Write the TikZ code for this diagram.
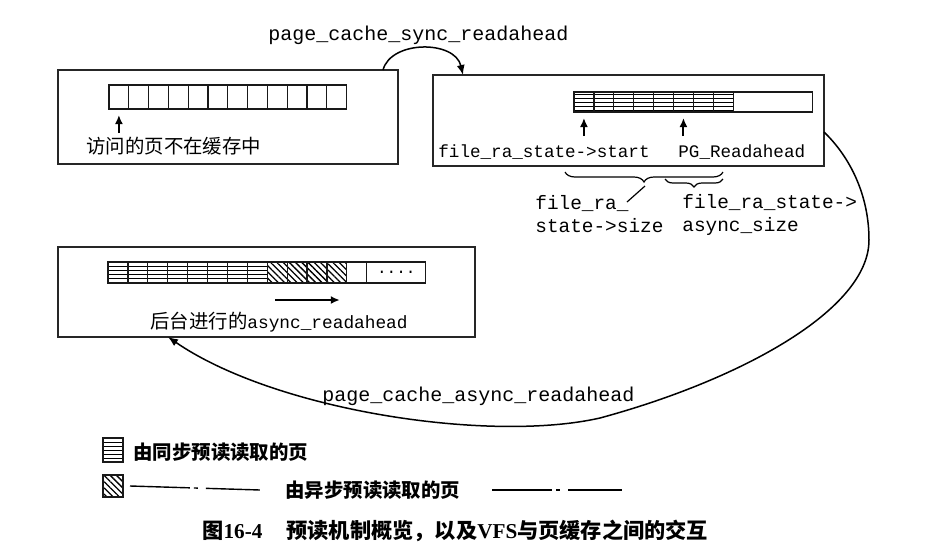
\documentclass[tikz,border=0pt]{standalone}
\usepackage{fontspec}
\setmonofont{Liberation Mono}
\newfontfamily\cjk{Noto Sans CJK SC}
\newfontfamily\latinb{Liberation Serif}
\usetikzlibrary{arrows.meta,positioning,patterns.meta,decorations.pathreplacing}

\begin{document}
\begin{tikzpicture}[x=0.5pt, y=-0.5pt,
  framebox/.style={draw=black!85, line width=0.75pt, inner sep=0pt, outer sep=0pt},
  cell/.style={draw=black!90, line width=0.6pt, minimum width=9.95pt, inner sep=0pt, outer sep=0pt},
  synccell/.style={cell, pattern={Lines[angle=0,distance=2pt,line width=0.45pt]}},
  asynccell/.style={cell, pattern={Lines[angle=-45,distance=2.2pt,line width=0.65pt]}},
  ptr/.style={-{Latex[length=4.5pt,width=4pt]}, line width=1pt},
  conn/.style={-{Latex[length=5pt,width=4pt]}, line width=0.75pt},
  lbl/.style={font=\ttfamily\fontsize{10}{11.5}\selectfont, inner sep=0pt, anchor=west, align=left},
  smalllbl/.style={lbl, font=\ttfamily\fontsize{8.8}{10}\selectfont},
  cjklbl/.style={font=\cjk\fontsize{9.7}{11}\selectfont, inner sep=0pt, anchor=west},
  legtxt/.style={font=\cjk\bfseries\fontsize{9.7}{11}\selectfont, inner sep=0pt, anchor=west},
  legline/.style={line width=0.7pt, dash pattern=on 30pt off 2pt on 2pt off 4pt on 27pt},
  bracedown/.style={decorate, decoration={brace, mirror, amplitude=#1}, line width=0.6pt}
]
\useasboundingbox (0,0) rectangle (933,558);

\node[framebox, minimum width=170pt, minimum height=47pt] (pgmiss) at (228,117) {};
\node[framebox, minimum width=195.5pt, minimum height=45.5pt] (pgsync) at (628.5,120.5) {};
\node[framebox, minimum width=208.5pt, minimum height=45pt] (pgasync) at (266.5,292) {};

\foreach \i in {1,...,12}
  \node[cell, minimum height=12pt] (a\i) at ({109+19.8*(\i-0.5)},97) {};

\foreach \i in {1,...,8}
  \node[synccell, minimum height=10pt] (b\i) at ({574+19.9*(\i-0.5)},102) {};
\node[cell, minimum width=39.5pt, minimum height=10pt, anchor=west] (b9) at (b8.east) {};

\foreach \i in {1,...,8}
  \node[synccell, minimum height=10.5pt] (c\i) at ({108+19.9*(\i-0.5)},272.5) {};
\foreach \i in {9,...,12}
  \node[asynccell, minimum height=10.5pt] (c\i) at ({108+19.9*(\i-0.5)},272.5) {};
\node[cell, minimum width=10pt, minimum height=10.5pt, anchor=west] (c13) at (c12.east) {};
\node[cell, minimum width=29.5pt, minimum height=10.5pt, anchor=west,
  font=\ttfamily\fontsize{8}{8}\selectfont] (c14) at (c13.east) {....};

\node[cjklbl] (misstxt) at (86,146) {访问的页不在缓存中};
\node[smalllbl] (starttxt) at (438,152) {file\_ra\_state->start};
\node[smalllbl] (ratxt) at (678,152) {PG\_Readahead};
\node[lbl, font=\ttfamily\fontsize{9.7}{11.5}\selectfont] (sizetxt) at (535,214.5) {file\_ra\_\\state->size};
\node[lbl, font=\ttfamily\fontsize{9.7}{11.5}\selectfont] (asizetxt) at (682,214.5) {file\_ra\_state->\\async\_size};
\node[cjklbl] (bgtxt) at (150,322) {后台进行的{\ttfamily\fontsize{8.9}{10}\selectfont async\_readahead}};
\node[lbl] (synctxt) at (268,35) {page\_cache\_sync\_readahead};
\node[lbl] (asynctxt) at (322,396) {page\_cache\_async\_readahead};

\draw[ptr] ([yshift=-12pt]a1.south) -- ([yshift=-3pt]a1.south);
\draw[ptr] ([yshift=-12pt]b1.south) -- ([yshift=-3pt]b1.south);
\draw[ptr] ([yshift=-12pt]b6.south) -- ([yshift=-3pt]b6.south);
\draw[ptr] ([xshift=4pt,yshift=-8.5pt]c9.south west) -- ([xshift=-3.5pt,yshift=-8.5pt]c12.south east);

\coordinate (sizel) at (565,172);
\coordinate (sizer) at (723,172);
\coordinate (asizel) at (665,179);
\coordinate (asizer) at (723,179);
\coordinate (sizetip) at (645,186);
\coordinate (sizeend) at (627,202);
\draw[bracedown=5pt] (sizel) -- (sizer);
\draw[bracedown=4pt] (asizel) -- (asizer);
\draw[line width=0.6pt] (sizetip) -- (sizeend);

\draw[conn] ([xshift=-7.5pt]pgmiss.north east) .. controls +(8,-30) and +(-8,-35) .. ([xshift=15pt]pgsync.north west);
\draw[conn] ([yshift=-5.75pt]pgsync.east) .. controls (850,157) and (869,195) .. (869,240)
  .. controls (869,310) and (740,380) .. (600,418)
  .. controls (490,443) and (276,411) .. ([xshift=55pt]pgasync.south west);

\node[synccell, minimum width=10pt, minimum height=12pt, line width=1pt] (lgsync) at (113,450) {};
\node[legtxt] (lgsynctxt) at (133,452) {由同步预读读取的页};
\node[asynccell, minimum width=10pt, minimum height=11pt, line width=1pt] (lgasync) at (113,486) {};
\node[legtxt] (lgasynctxt) at (285,490) {由异步预读读取的页};
\draw[legline] ([xshift=3.5pt]lgasync.east) -- ([xshift=-12.5pt]lgasynctxt.west);
\draw[legline] ([xshift=16pt]lgasynctxt.east) -- ++(130,0);

\node[legtxt, font=\cjk\bfseries\fontsize{10.6}{12}\selectfont] (caption) at (202,531)
  {图{\latinb\bfseries 16-4}\hspace{12pt}预读机制概览，以及{\latinb\bfseries VFS}与页缓存之间的交互};
\end{tikzpicture}
\end{document}
